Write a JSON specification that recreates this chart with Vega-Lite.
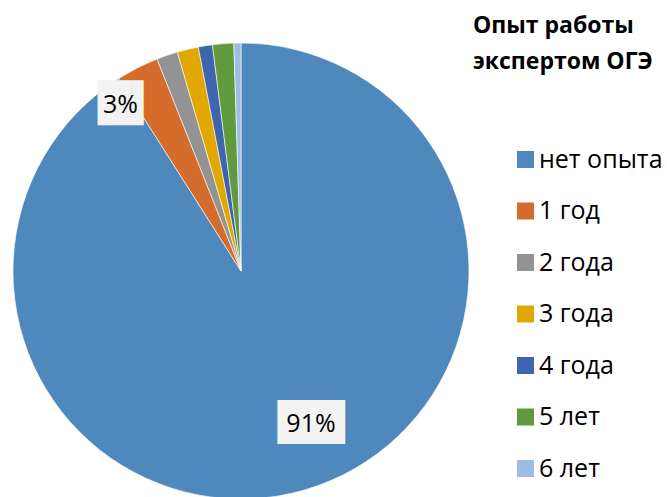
{
  "$schema": "https://vega.github.io/schema/vega-lite/v6.json",
  "width": 482,
  "height": 452,
  "autosize": "none",
  "padding": {"left": 0, "top": 45, "right": 185, "bottom": 0},
  "background": "white",
  "config": {"view": {"stroke": null}},
  "data": {"values": [
    {"cat": "нет опыта", "share": 0.91, "rank": 1},
    {"cat": "1 год", "share": 0.03, "rank": 2},
    {"cat": "2 года", "share": 0.015, "rank": 3},
    {"cat": "3 года", "share": 0.015, "rank": 4},
    {"cat": "4 года", "share": 0.01, "rank": 5},
    {"cat": "5 лет", "share": 0.015, "rank": 6},
    {"cat": "6 лет", "share": 0.005, "rank": 7}
  ]},
  "encoding": {
    "theta": {"field": "share", "type": "quantitative", "stack": true},
    "order": {"field": "rank", "type": "quantitative"}
  },
  "layer": [
    {
      "mark": {"type": "arc", "radius": 228, "stroke": "#ffffff", "strokeWidth": 0.6},
      "encoding": {
        "color": {
          "field": "cat", "type": "nominal",
          "scale": {
            "domain": ["нет опыта", "1 год", "2 года", "3 года", "4 года", "5 лет", "6 лет"],
            "range": ["#4E88BD", "#D46C2B", "#939393", "#E0A800", "#3E65AD", "#62993E", "#9DBDE3"]
          },
          "legend": {
            "orient": "none",
            "legendX": 473,
            "legendY": -30,
            "padding": 0,
            "title": ["Опыт работы", "экспертом ОГЭ"],
            "titleFont": "Open Sans",
            "titleFontSize": 23,
            "titleFontWeight": "bold",
            "titleColor": "#000000",
            "titleLineHeight": 36,
            "titlePadding": 73,
            "titleLimit": 300,
            "labelFont": "Open Sans",
            "labelFontSize": 25,
            "labelColor": "#000000",
            "labelOffset": 1,
            "symbolType": "square",
            "symbolSize": 289,
            "symbolStrokeWidth": 0,
            "symbolOffset": 40,
            "rowPadding": 25.5,
            "labelLimit": 300
          }
        }
      }
    },
    {
      "mark": {"type": "text", "radius": 168, "thetaOffset": -0.147, "font": "DejaVu Sans Mono", "fontSize": 37, "color": "#F2F2F2", "align": "center", "baseline": "middle"},
      "encoding": {
        "text": {"condition": {"test": "datum.cat === 'нет опыта'", "value": "███"}, "value": ""}
      }
    },
    {
      "mark": {"type": "text", "radius": 205, "thetaOffset": -0.157, "font": "DejaVu Sans Mono", "fontSize": 38, "color": "#F2F2F2", "align": "center", "baseline": "middle"},
      "encoding": {
        "text": {"condition": {"test": "datum.cat === '1 год'", "value": "▐█▌"}, "value": ""}
      }
    },
    {
      "mark": {"type": "text", "radius": 168, "thetaOffset": -0.147, "font": "Open Sans", "fontSize": 25, "color": "#000000", "align": "center", "baseline": "middle"},
      "encoding": {
        "text": {"condition": {"test": "datum.cat === 'нет опыта'", "value": "91%"}, "value": ""}
      }
    },
    {
      "mark": {"type": "text", "radius": 205, "thetaOffset": -0.157, "font": "Open Sans", "fontSize": 25, "color": "#000000", "align": "center", "baseline": "middle"},
      "encoding": {
        "text": {"condition": {"test": "datum.cat === '1 год'", "value": "3%"}, "value": ""}
      }
    }
  ]
}
